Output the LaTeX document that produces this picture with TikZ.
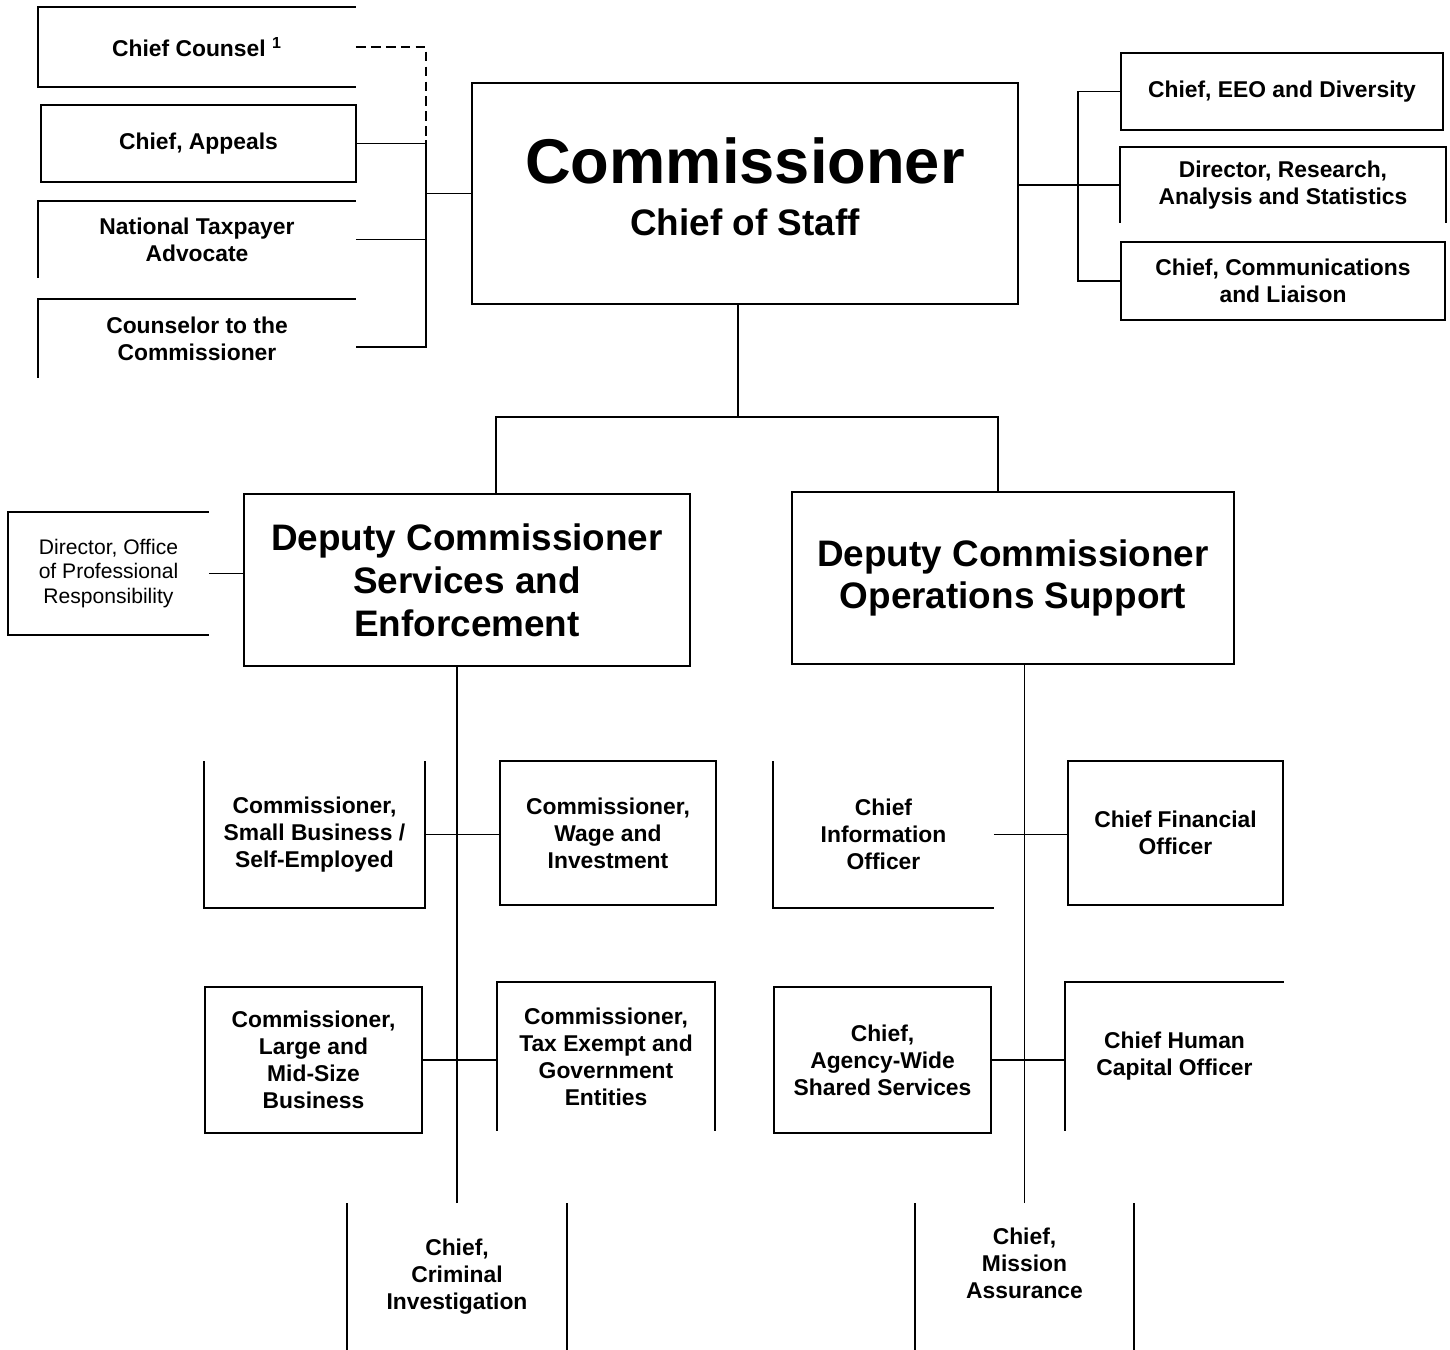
\documentclass[tikz,border=0pt]{standalone}
\usepackage{fontspec}
\setmainfont{Liberation Sans}
\newcommand\unitfont{\fontsize{13}{15.4}\selectfont\bfseries}
\newcommand\deputyfont{\fontsize{21}{24.4}\selectfont\bfseries}

\begin{document}
\begin{tikzpicture}[x=0.02cm, y=-0.02cm, line width=1.1pt]
	\tikzset{wh/.style 2 args={minimum width=#1*0.02cm, minimum height=#2*0.02cm}}
	\tikzstyle{unit}=[inner sep=0pt, align=center, font=\unitfont]
	\tikzstyle{box}=[unit, draw]
	\tikzstyle{deputy}=[box, font=\deputyfont]
	\useasboundingbox (0,0) rectangle (1450,1349);

	\node[box, wh={546}{221}, font=\fontsize{21}{29.6}\selectfont\bfseries] (comm) at (745,193.5)
		{{\fontsize{36}{40}\selectfont Commissioner}\\Chief of Staff\\[-21.6pt]};

	\node[unit, wh={316}{78}] (counsel) at (197,47) {Chief Counsel \textsuperscript{1}};
	\node[box, wh={315}{77}] (appeals) at (198.5,143.5) {Chief, Appeals};
	\node[unit, wh={316}{75}] (advocate) at (197,239.5) {National Taxpayer\\Advocate};
	\node[unit, wh={316}{77}] (counselor) at (197,338.5) {Counselor to the\\Commissioner};

	\node[box, wh={322}{77}] (eeo) at (1282,91.5) {Chief, EEO and Diversity};
	\node[unit, wh={324}{74}] (research) at (1283,185) {Director, Research,\\Analysis and Statistics};
	\node[box, wh={324}{78}] (liaison) at (1283,281) {Chief, Communications\\and Liaison};

	\node[deputy, wh={446}{172}] (dcse) at (467,580) {Deputy Commissioner\\Services and\\Enforcement};
	\node[deputy, wh={442}{172}] (dcos) at (1013,578) {Deputy Commissioner\\Operations Support};
	\node[unit, wh={199}{121}, font=\fontsize{12}{13.7}\selectfont] (opr) at (108.5,573.5)
		{Director, Office\\of Professional\\Responsibility};

	\node[unit, wh={219}{145}] (sbse) at (314.5,834.5) {Commissioner,\\Small Business /\\Self-Employed};
	\node[box, wh={216}{144}] (wi) at (608,833) {Commissioner,\\Wage and\\Investment};
	\node[box, wh={217}{146}] (lmsb) at (313.5,1060) {Commissioner,\\Large and\\Mid-Size\\Business};
	\node[unit, wh={216}{147}] (tege) at (606,1056.5) {Commissioner,\\Tax Exempt and\\Government\\Entities};
	\node[unit, wh={218}{145}] (ci) at (457,1276.5) {Chief,\\Criminal\\Investigation};

	\node[unit, wh={219}{145}] (cio) at (883.5,834.5) {Chief\\Information\\Officer};
	\node[box, wh={215}{144}] (cfo) at (1175.5,833) {Chief Financial\\Officer};
	\node[box, wh={217}{146}] (awss) at (882.5,1060) {Chief,\\Agency-Wide\\Shared Services};
	\node[unit, wh={217}{147}] (chco) at (1174.5,1056.5) {Chief Human\\Capital Officer};
	\node[unit, wh={217}{145}] (ma) at (1024.5,1276.5) {Chief,\\Mission\\Assurance\\};

	\draw (counsel.north east) -- (counsel.north west) -- (counsel.south west) -- (counsel.south east);
	\draw (advocate.north east) -- (advocate.north west) -- (advocate.south west);
	\draw (counselor.north east) -- (counselor.north west) -- (counselor.south west);
	\draw (research.south west) -- (research.north west) -- (research.north east) -- (research.south east);
	\draw (opr.north east) -- (opr.north west) -- (opr.south west) -- (opr.south east);
	\draw (sbse.north west) -- (sbse.south west) -- (sbse.south east) -- (sbse.north east);
	\draw (tege.south west) -- (tege.north west) -- (tege.north east) -- (tege.south east);
	\draw (ci.north west) -- (ci.south west) (ci.north east) -- (ci.south east);
	\draw (cio.north west) -- (cio.south west) -- (cio.south east);
	\draw (chco.south west) -- (chco.north west) -- (chco.north east);
	\draw (ma.north west) -- (ma.south west) (ma.north east) -- (ma.south east);

	\coordinate (lbus) at (426,140);
	\coordinate (lfoot) at (426,347);
	\coordinate (rbus) at (1078,184);
	\coordinate (split) at (738,417);
	\coordinate (sebranch) at (496,417);
	\coordinate (osbranch) at (998,417);

	\draw[dash pattern=on 5.5pt off 3pt] (counsel.east) -| (lbus);
	\draw (lbus) -- (lfoot) -- (lfoot -| counselor.east);
	\draw (appeals.east) -- (lbus |- appeals.east);
	\draw (advocate.east) -- (lbus |- advocate.east);
	\draw (lbus |- comm.west) -- (comm.west);

	\draw (comm.east |- research.west) -- (research.west);
	\draw (eeo.west) -- (rbus |- eeo.west) -- (rbus |- liaison.west) -- (liaison.west);

	\draw (split |- comm.south) -- (split);
	\draw (sebranch |- dcse.north) -- (sebranch) -- (osbranch) -- (osbranch |- dcos.north);
	\draw (opr.east) -- (opr.east -| dcse.west);

	\draw (ci.north) -- (ci.north |- dcse.south);
	\draw (ma.north) -- (ma.north |- dcos.south);
	\draw (sbse.east) -- (sbse.east -| wi.west);
	\draw (lmsb.east) -- (lmsb.east -| tege.west);
	\draw (cio.east) -- (cio.east -| cfo.west);
	\draw (awss.east) -- (awss.east -| chco.west);
\end{tikzpicture}
\end{document}
